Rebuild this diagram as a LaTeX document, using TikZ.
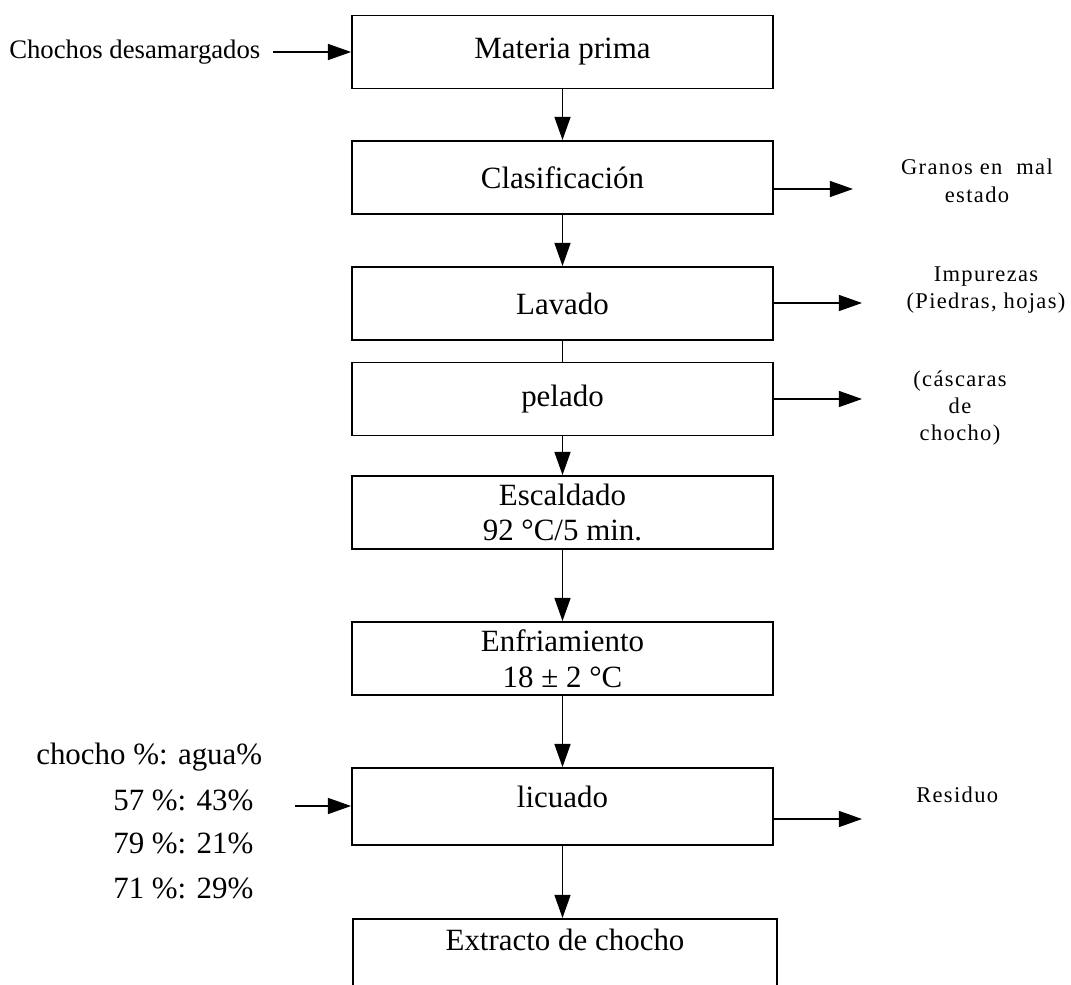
\documentclass[tikz,border=0pt]{standalone}
\usepackage{fontspec}
\setmainfont{Liberation Serif}
\newfontfamily\lateral[LetterSpace=6]{Liberation Serif}
\usetikzlibrary{arrows.meta}

\begin{document}
\begin{tikzpicture}[x=0.025cm, y=-0.025cm,
  caja/.style={draw, line width=1.2pt, minimum width=10.525cm, minimum height=1.83cm, inner sep=0pt, align=center, font=\fontsize{22}{25.5}\selectfont},
  texto/.style={inner sep=0pt, font=\fontsize{22}{26}\selectfont},
  nota/.style={inner sep=0pt, align=center, font=\lateral\fontsize{16}{19.5}\selectfont},
  flecha/.style={line width=1.2pt, -{Triangle[length=0.58cm, width=0.4cm]}},
  linea/.style={line width=1.2pt}]
\useasboundingbox (0,0) rectangle (1071,985);
\clip (0,0) rectangle (1071,985);
\node[caja] (materia) at (562.5,52) {Materia prima};
\node[caja] (clasif) at (562.5,177.5) {Clasificación};
\node[caja] (lavado) at (562.5,303.5) {Lavado};
\node[caja] (pelado) at (562.5,399) {pelado};
\node[caja] (escaldado) at (562.5,512.5) {Escaldado\\92 °C/5 min.};
\node[caja] (enfriamiento) at (562.5,658.5) {Enfriamiento\\18 ± 2 °C};
\node[caja, minimum height=1.925cm] (licuado) at (562.5,806.5) {};
\node[texto] (licuadotxt) at (562.5,797) {licuado};
\node[caja, minimum width=10.6cm, minimum height=2cm, anchor=north] (extracto) at (565,918) {};
\node[texto] (extractotxt) at (565,940) {Extracto de chocho};
\node[texto, anchor=west, font=\fontsize{19}{23}\selectfont] (chochos) at (9,52) {Chochos desamargados};
\node[nota] (granos) at (977,181) {Granos en~ mal\\estado};
\node[nota] (impurezas) at (986,290) {Impurezas\\(Piedras, hojas)};
\node[nota] (cascaras) at (960,408) {(cáscaras\\de\\chocho)};
\node[nota, anchor=west] (residuo) at (916,795) {Residuo};
\node[texto, anchor=west] (proporcion) at (36,757) {chocho \%: agua\%};
\node[texto, anchor=west] (mezcla1) at (113,800) {57 \%: 43\%};
\node[texto, anchor=west] (mezcla2) at (113,843) {79 \%: 21\%};
\node[texto, anchor=west] (mezcla3) at (113,888) {71 \%: 29\%};
\coordinate (granosfin) at (853,189);
\coordinate (impurezasfin) at (862,303);
\coordinate (cascarasfin) at (862,399);
\coordinate (residuofin) at (862,819);
\coordinate (mezclaini) at (295,806);
\draw[flecha, shorten <=0.32cm] (chochos) -- (materia);
\draw[flecha] (materia) -- (clasif);
\draw[flecha] (clasif) -- (lavado);
\draw[linea] (lavado) -- (pelado);
\draw[flecha] (pelado) -- (escaldado);
\draw[flecha] (escaldado) -- (enfriamiento);
\draw[flecha] (enfriamiento) -- (licuado);
\draw[flecha] (licuado.south) -- (licuado.south |- extracto.north);
\draw[flecha] (clasif.east |- granosfin) -- (granosfin);
\draw[flecha] (lavado.east |- impurezasfin) -- (impurezasfin);
\draw[flecha] (pelado.east |- cascarasfin) -- (cascarasfin);
\draw[flecha] (licuado.east |- residuofin) -- (residuofin);
\draw[flecha] (mezclaini) -- (mezclaini -| licuado.west);
\end{tikzpicture}
\end{document}
